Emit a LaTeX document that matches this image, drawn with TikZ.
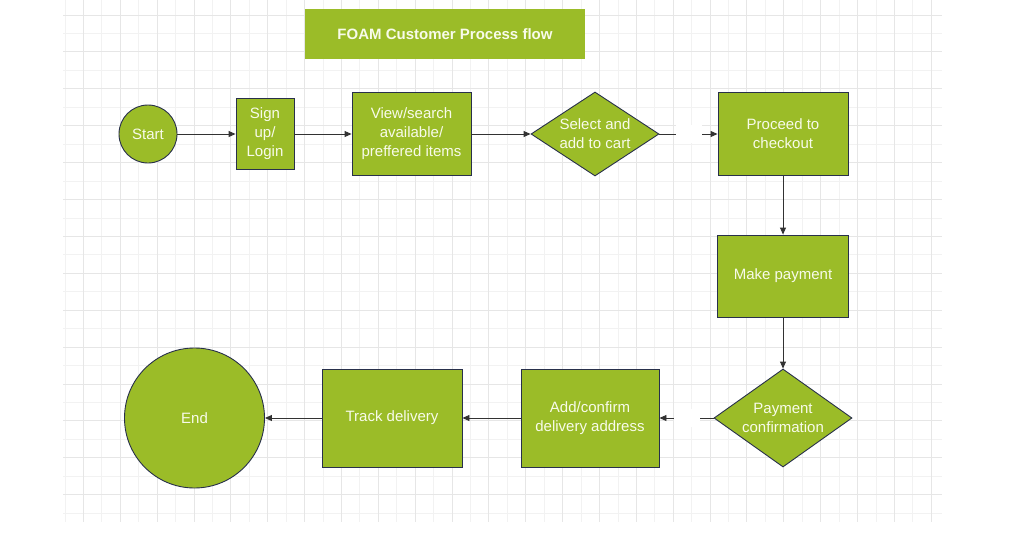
\documentclass[tikz,border=0pt]{standalone}
\usepackage{fontspec}
\setmainfont{Liberation Sans}
\usetikzlibrary{shapes.geometric,arrows.meta}
\definecolor{flowgreen}{RGB}{155,188,40}
\definecolor{edgenavy}{RGB}{40,48,75}
\definecolor{gridminor}{RGB}{242,242,242}
\definecolor{gridmajor}{RGB}{230,230,230}
\definecolor{linkgrey}{RGB}{50,50,50}
\definecolor{textwhite}{RGB}{248,251,234}

\begin{document}
\begin{tikzpicture}[x=1pt,y=-1pt,
  font=\fontsize{15}{19}\selectfont,
  box/.style={rectangle, draw=edgenavy, line width=0.9pt, fill=flowgreen,
    text=textwhite, align=center, inner sep=0pt},
  roundbox/.style={box, circle},
  decision/.style={diamond, draw=edgenavy, line width=0.9pt, fill=flowgreen, inner sep=0pt},
  dtext/.style={text=textwhite, align=center},
  link/.style={draw=linkgrey, line width=0.9pt, -{Triangle[length=7pt,width=6pt]}},
  gapbox/.style={fill=white, inner sep=0pt, minimum width=26pt, minimum height=18pt},
]
\useasboundingbox (0,0) rectangle (1031,554);
\fill[white] (0,0) rectangle (1031,554);

% background grid
\foreach \k in {0,2,...,46} \draw[gridminor, line width=0.8pt] ({65+18.43*\k},0) -- ({65+18.43*\k},522);
\foreach \k in {1,3,...,27} \draw[gridminor, line width=0.8pt] (63,{15+18.45*\k}) -- (942,{15+18.45*\k});
\foreach \k in {1,3,...,47} \draw[gridmajor, line width=1pt] ({65+18.43*\k},0) -- ({65+18.43*\k},522);
\foreach \k in {0,2,...,26} \draw[gridmajor, line width=1pt] (63,{15+18.45*\k}) -- (942,{15+18.45*\k});

% title
\node[box, draw=none, minimum width=280pt, minimum height=50pt,
  font=\bfseries\fontsize{15}{19}\selectfont] (title) at (445,34) {FOAM Customer Process flow};

% top row
\node[roundbox, minimum size=58pt] (start) at (148,134) {Start};
\node[box, minimum width=58pt, minimum height=71pt] (sign) at (265,134) {Sign\\up/\\Login};
\node[box, minimum width=119pt, minimum height=83pt] (view) at (411.5,134) {View/search\\available/\\preffered items};
\node[decision, minimum width=128pt, minimum height=84pt,
  label={[dtext]center:{Select and\\add to cart}}] (select) at (595,134) {};
\node[box, minimum width=130pt, minimum height=83pt] (checkout) at (783,134) {Proceed to\\checkout};

% right column
\node[box, minimum width=131pt, minimum height=82pt] (pay) at (783,276) {Make payment};
\node[decision, minimum width=138pt, minimum height=98pt,
  label={[dtext]center:{Payment\\confirmation}}] (confirm) at (783,418) {};

% bottom row
\node[box, minimum width=138pt, minimum height=98pt] (address) at (590,418) {Add/confirm\\delivery address};
\node[box, minimum width=140pt, minimum height=98pt] (track) at (392,418) {Track delivery};
\node[roundbox, minimum size=140pt] (end) at (194.5,418) {End};

% connectors
\draw[link] (start) -- (sign);
\draw[link] (sign) -- (view);
\draw[link] (view) -- (select);
\draw[link] (select) -- node[gapbox] (gapA) {} (checkout);
\draw[link] (checkout) -- (pay);
\draw[link] (pay) -- (confirm);
\draw[link] (confirm) -- node[gapbox] (gapB) {} (address);
\draw[link] (address) -- (track);
\draw[link] (track) -- (end);
\end{tikzpicture}
\end{document}
